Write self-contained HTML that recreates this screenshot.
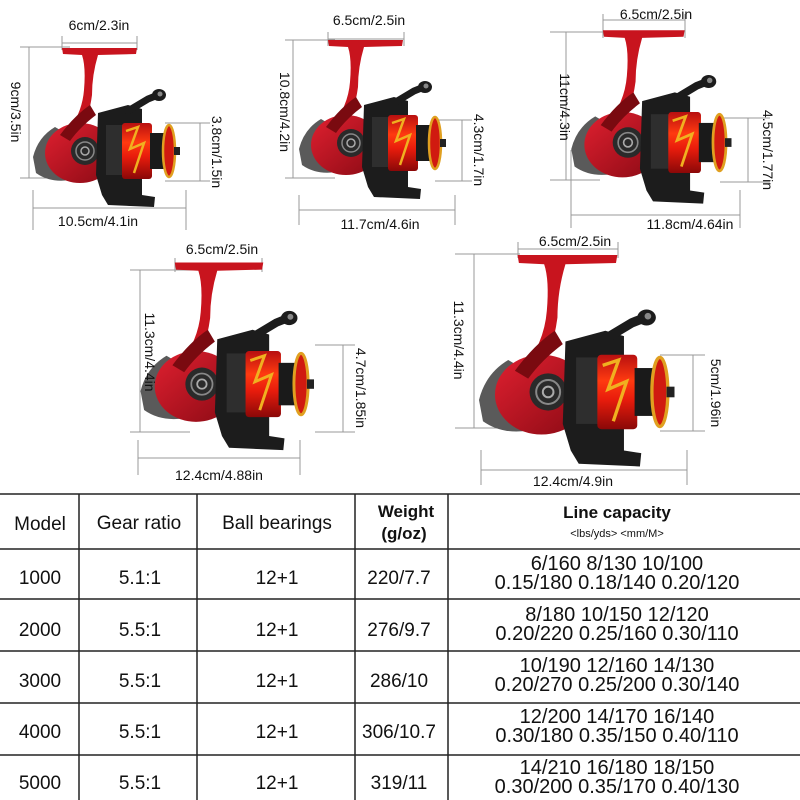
<!DOCTYPE html>
<html><head><meta charset="utf-8"><style>
html,body{margin:0;padding:0;background:#fff;}
body{width:800px;height:800px;position:relative;overflow:hidden;font-family:"Liberation Sans",Arial,sans-serif;}
svg{position:absolute;left:0;top:0;}
</style></head><body>
<svg width="800" height="800" viewBox="0 0 800 800" xmlns="http://www.w3.org/2000/svg">
<defs>
<linearGradient id="sp" x1="0" y1="0" x2="0" y2="1">
<stop offset="0" stop-color="#b81010"/><stop offset="0.35" stop-color="#ff3a10"/><stop offset="0.6" stop-color="#e81c0c"/><stop offset="1" stop-color="#8a0808"/></linearGradient>
<linearGradient id="bd" x1="0" y1="0" x2="1" y2="1">
<stop offset="0" stop-color="#e02030"/><stop offset="1" stop-color="#8a0a14"/></linearGradient>
<g id="reel">
<path d="M32 3 L107 3 L106 9 L68 10 Q62 30 62 50 Q58 80 45 95 L35 90 Q52 70 54 45 Q56 22 52 10 L33 9 Z" fill="#c8141e"/>
<path d="M3 112 Q8 92 25 82 L42 92 L40 135 Q20 138 6 128 Z" fill="#5a5a5a"/>
<ellipse cx="50" cy="108" rx="35" ry="30" fill="url(#bd)"/>
<path d="M30 90 Q45 70 60 60 L66 70 Q50 82 40 96 Z" fill="#7a0a10"/>
<circle cx="55" cy="106" r="14" fill="#2a2a2a"/>
<circle cx="55" cy="106" r="9" fill="none" stroke="#888" stroke-width="1.5"/>
<circle cx="55" cy="106" r="4" fill="none" stroke="#aaa" stroke-width="1.5"/>
<path d="M68 68 L98 60 L112 64 L112 150 L125 152 L124 162 L78 160 L72 150 L66 130 Z" fill="#1c1c1c"/>
<path d="M98 66 L118 54 L128 50" stroke="#1c1c1c" stroke-width="7" fill="none" stroke-linecap="round"/>
<ellipse cx="129" cy="50" rx="7" ry="6" fill="#1c1c1c"/>
<circle cx="130" cy="49" r="2.5" fill="#888"/>
<rect x="76" y="80" width="22" height="50" fill="#2e2e2e"/>
<rect x="92" y="78" width="30" height="56" rx="3" fill="url(#sp)"/>
<path d="M96 86 L108 82 L100 104 L114 98 L104 128" stroke="#f0b020" stroke-width="2.5" fill="none"/>
<rect x="120" y="88" width="14" height="36" fill="#1a1a1a"/>
<ellipse cx="139" cy="106" rx="6" ry="26" fill="#d01a10" stroke="#e0a020" stroke-width="2.5"/>
<rect x="144" y="102" width="6" height="8" fill="#222"/>
</g>
</defs>
<g fill="none" stroke="#999" stroke-width="1">
<path d="M62 43H137M62 36V50M137 36V50"/>
<path d="M29 47V178M20 47H70M20 178H70"/>
<path d="M33 208H186M33 190V230M186 190V230"/>
<path d="M200 123V181M165 123H210M165 181H210"/>
<path d="M328 39H404M328 32V46M404 32V46"/>
<path d="M293 40V178M285 40H335M285 178H335"/>
<path d="M299 210H455M299 195V225M455 195V225"/>
<path d="M462 120V181M435 120H472M435 181H472"/>
<path d="M603 20H685M603 14V38M685 14V38"/>
<path d="M566 32V180M550 32H610M550 180H600"/>
<path d="M571 215H740M571 150V228M740 190V228"/>
<path d="M748 118V182M720 118H770M720 182H770"/>
<path d="M175 266H262M175 258V272M262 258V272"/>
<path d="M140 270V432M130 270H200M130 432H190"/>
<path d="M138 458H300M138 440V475M300 440V475"/>
<path d="M343 345V432M315 345H355M315 432H355"/>
<path d="M518 249H618M518 242V258M618 242V258"/>
<path d="M474 254V428M455 254H520M455 428H510"/>
<path d="M481 470H687M481 450V485M687 450V485"/>
<path d="M693 355V431M660 355H705M660 431H705"/>
</g>
<use href="#reel" transform="translate(30 45)"/>
<use href="#reel" transform="translate(296 37)"/>
<use href="#reel" transform="translate(568 27) scale(1.09)"/>
<use href="#reel" transform="translate(137 259) scale(1.18)"/>
<use href="#reel" transform="translate(475 251) scale(1.33)"/>
<g font-family="Liberation Sans, Arial, sans-serif" font-size="14" fill="#111" text-anchor="middle">
<text x="99" y="30">6cm/2.3in</text>
<text x="98" y="226">10.5cm/4.1in</text>
<text x="369" y="25">6.5cm/2.5in</text>
<text x="380" y="229">11.7cm/4.6in</text>
<text x="656" y="19">6.5cm/2.5in</text>
<text x="690" y="229">11.8cm/4.64in</text>
<text x="222" y="254">6.5cm/2.5in</text>
<text x="219" y="480">12.4cm/4.88in</text>
<text x="575" y="246">6.5cm/2.5in</text>
<text x="573" y="486">12.4cm/4.9in</text>
<text transform="translate(11 112) rotate(90)">9cm/3.5in</text>
<text transform="translate(212 152) rotate(90)">3.8cm/1.5in</text>
<text transform="translate(280 112) rotate(90)">10.8cm/4.2in</text>
<text transform="translate(474 150) rotate(90)">4.3cm/1.7in</text>
<text transform="translate(560 107) rotate(90)">11cm/4.3in</text>
<text transform="translate(763 150) rotate(90)">4.5cm/1.77in</text>
<text transform="translate(145 352) rotate(90)">11.3cm/4.4in</text>
<text transform="translate(356 388) rotate(90)">4.7cm/1.85in</text>
<text transform="translate(454 340) rotate(90)">11.3cm/4.4in</text>
<text transform="translate(711 393) rotate(90)">5cm/1.96in</text>
</g>
<g stroke="#222" stroke-width="1.5" fill="none">
<path d="M0 494H800M0 549H800M0 599H800M0 651H800M0 703H800M0 755H800"/>
<path d="M79 494V800M197 494V800M355 494V800M448 494V800"/>
</g>
<g font-family="Liberation Sans, Arial, sans-serif" fill="#111" text-anchor="middle">
<g font-size="19">
<text x="40" y="530">Model</text>
<text x="139" y="529">Gear ratio</text>
<text x="277" y="529">Ball bearings</text>
</g>
<g font-size="17" font-weight="bold">
<text x="406" y="517">Weight</text>
<text x="404" y="539">(g/oz)</text>
<text x="617" y="518">Line capacity</text>
</g>
<text x="617" y="537" font-size="11">&lt;lbs/yds&gt;  &lt;mm/M&gt;</text>
<g font-size="19">
<text x="40" y="584">1000</text><text x="140" y="584">5.1:1</text><text x="277" y="584">12+1</text><text x="399" y="584">220/7.7</text>
<text x="40" y="636">2000</text><text x="140" y="636">5.5:1</text><text x="277" y="636">12+1</text><text x="399" y="636">276/9.7</text>
<text x="40" y="687">3000</text><text x="140" y="687">5.5:1</text><text x="277" y="687">12+1</text><text x="399" y="687">286/10</text>
<text x="40" y="738">4000</text><text x="140" y="738">5.5:1</text><text x="277" y="738">12+1</text><text x="399" y="738">306/10.7</text>
<text x="40" y="789">5000</text><text x="140" y="789">5.5:1</text><text x="277" y="789">12+1</text><text x="399" y="789">319/11</text>
</g>
<g font-size="20">
<text x="617" y="570">6/160 8/130 10/100</text><text x="617" y="589">0.15/180 0.18/140 0.20/120</text>
<text x="617" y="621">8/180 10/150 12/120</text><text x="617" y="640">0.20/220 0.25/160 0.30/110</text>
<text x="617" y="672">10/190 12/160 14/130</text><text x="617" y="691">0.20/270 0.25/200 0.30/140</text>
<text x="617" y="723">12/200 14/170 16/140</text><text x="617" y="742">0.30/180 0.35/150 0.40/110</text>
<text x="617" y="774">14/210 16/180 18/150</text><text x="617" y="793">0.30/200 0.35/170 0.40/130</text>
</g>
</g>
</svg>
</body></html>
